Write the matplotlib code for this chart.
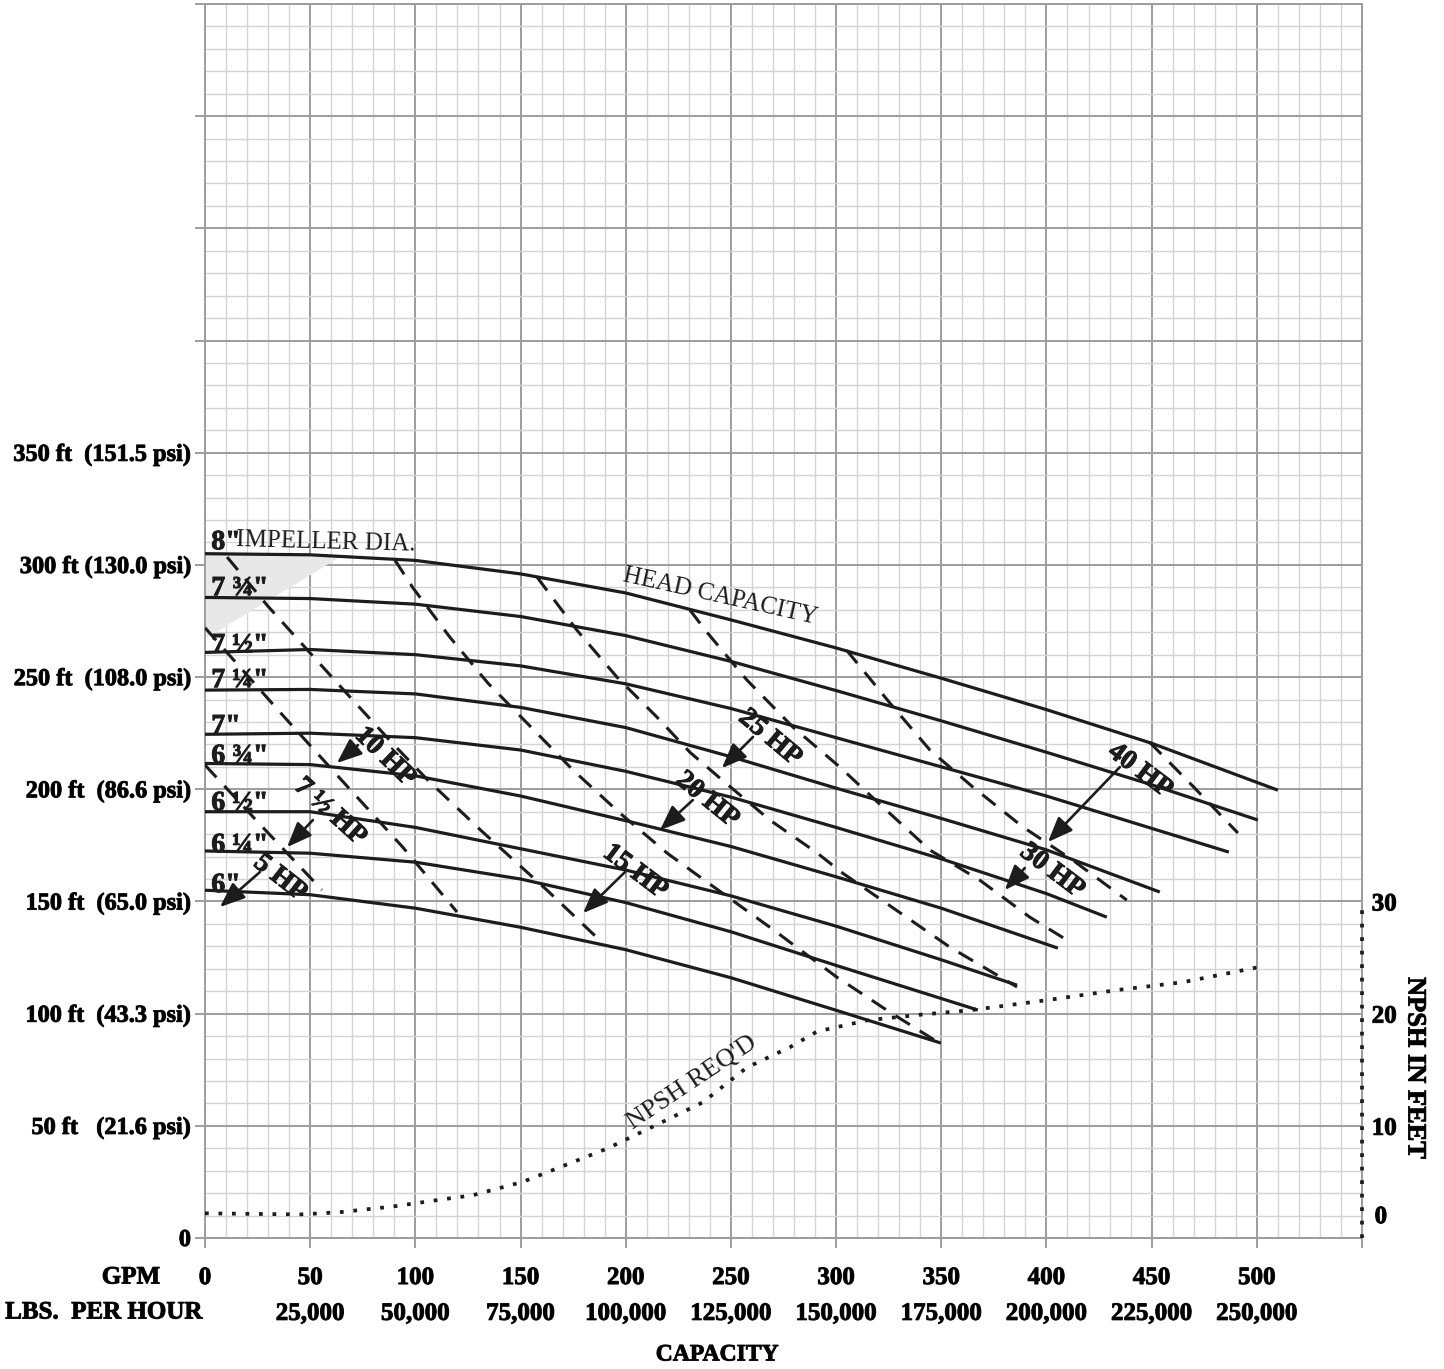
import matplotlib.pyplot as plt
import matplotlib.patheffects as pe

plt.rcParams['font.family'] = ['Liberation Serif', 'DejaVu Serif']

INK = '#1e1b1c'
MAJOR = '#9d9d9d'
MINOR = '#d4d4d4'
HEAVY = [pe.withStroke(linewidth=0.7, foreground=INK)]

# ---- impeller head-capacity curves (gpm, head ft) ----
dia_labels = ['8"', '7 ¾"', '7 ½"', '7 ¼"', '7"', '6 ¾"', '6 ½"', '6 ¼"', '6"']
dia_label_y = [307, 286.5, 261.1, 245.5, 225, 211.7, 190.7, 172, 154.2]

gpm_8 = [0, 50, 100, 150, 200, 250, 300, 350, 400, 450, 510]
head_8 = [305, 304.5, 302, 296, 287.5, 275.5, 263, 249.5, 235.5, 220.5, 199.6]
gpm_7_75 = [0, 50, 100, 150, 200, 250, 300, 350, 400, 450, 500.5]
head_7_75 = [285.5, 285, 282.5, 277, 268.5, 257, 244, 230.5, 216.5, 202, 186.3]
gpm_7_5 = [0, 50, 100, 150, 200, 250, 300, 350, 400, 486.7]
head_7_5 = [261, 262.3, 260, 255, 247, 236, 223, 210, 197, 172]
gpm_7_25 = [0, 50, 100, 150, 200, 250, 300, 350, 400, 453.9]
head_7_25 = [244.2, 244.5, 242.5, 236.5, 227.5, 214.5, 200.5, 187, 173, 154.2]
gpm_7 = [0, 50, 100, 150, 200, 250, 300, 350, 400, 428.7]
head_7 = [224.5, 225, 223, 217.5, 208, 196.5, 183, 169, 153.5, 143]
gpm_6_75 = [0, 50, 100, 150, 200, 250, 300, 350, 405.4]
head_6_75 = [211.5, 211, 206, 197, 186, 174.5, 161, 147, 129.2]
gpm_6_5 = [0, 50, 100, 150, 200, 250, 300, 350, 386]
head_6_5 = [190, 190, 183, 173.5, 164, 152.5, 139, 124, 112.7]
gpm_6_25 = [0, 50, 100, 150, 200, 250, 300, 367.4]
head_6_25 = [172.5, 171.5, 167.5, 160, 149.5, 136.5, 121.5, 101.6]
gpm_6 = [0, 50, 100, 150, 200, 250, 300, 349.8]
head_6 = [155, 153, 147, 138.5, 128.5, 116, 101.5, 86.9]

curves = [(gpm_8, head_8), (gpm_7_75, head_7_75), (gpm_7_5, head_7_5),
          (gpm_7_25, head_7_25), (gpm_7, head_7), (gpm_6_75, head_6_75),
          (gpm_6_5, head_6_5), (gpm_6_25, head_6_25), (gpm_6, head_6)]

# ---- constant horsepower lines (dashed) ----
hp_a_gpm = [0, 25, 55.6]
hp_a_head = [210.8, 185.5, 155.1]
hp_b_gpm = [0, 35.6, 65, 94, 119.8]
hp_b_head = [272, 234.4, 204, 174.2, 145.3]
hp_c_gpm = [10.5, 30, 50, 70, 89, 106, 131, 162.5, 189]
hp_c_head = [303.5, 281.5, 260.7, 240, 220.6, 204, 181.8, 155.1, 131.5]
hp_d_gpm = [90.3, 98.9, 116.4, 134.5, 155.4, 174.9, 197.2, 219.6, 235.3, 270, 300, 325, 348]
hp_d_head = [302.1, 289.7, 267.8, 247.3, 227.3, 208.6, 189.4, 171.6, 160.9, 137.5, 116.5, 101, 87.5]
hp_e_gpm = [157.8, 176.8, 195.8, 214.8, 230.5, 246, 268.5, 291, 303, 354, 386]
hp_e_head = [294.6, 270.9, 250, 232.2, 216.5, 204, 186.3, 171.6, 162.7, 129.7, 111.9]
hp_f_gpm = [230.5, 238.6, 257.6, 279.5, 301.8, 322.2, 344.6, 368.3, 392.1, 409.7]
hp_f_head = [279.9, 270, 248.7, 227.7, 209.9, 192.1, 172.9, 159.5, 143, 132.8]
hp_g_gpm = [305, 325.6, 344.6, 365, 388.8, 412.5, 438.2]
hp_g_head = [262, 238.4, 217.5, 201, 183.2, 168.4, 150.6]
hp_h_gpm = [449, 470, 491]
hp_h_head = [221, 201, 180.5]

hp_lines = [(hp_a_gpm, hp_a_head), (hp_b_gpm, hp_b_head), (hp_c_gpm, hp_c_head),
            (hp_d_gpm, hp_d_head), (hp_e_gpm, hp_e_head), (hp_f_gpm, hp_f_head),
            (hp_g_gpm, hp_g_head), (hp_h_gpm, hp_h_head)]

# HP call-outs: label, text centre, rotation, arrow tail, arrow tip
hp_names = ['5 HP', '7 ½ HP', '10 HP', '15 HP', '20 HP', '25 HP', '30 HP', '40 HP']
hp_text_xy = [(35.6, 160.4), (59.4, 189.8), (85.5, 214.3), (204.4, 163.1),
              (238.6, 195.2), (268.5, 222.8), (402.6, 163.5), (444.4, 208.1)]
hp_rot = [-38, -42, -44, -37, -39, -40, -37, -37]
hp_tail = [(26.1, 163.1), (51.3, 186.3), (72.7, 219.7), (200.6, 164),
           (231.9, 195.2), (260.5, 223.3), (389.7, 164.9), (434.9, 209.9)]
hp_tip = [(7.1, 147.5), (39.0, 174.2), (62.7, 211.7), (179.7, 144.8),
          (216.3, 181.8), (245.7, 209.4), (380.2, 155.1), (400.7, 176.5)]

# ---- NPSH required (ft) ----
npsh_gpm = [0, 45, 64, 89, 115, 127, 151, 170, 191.5, 214.8, 236.7, 257.6, 278,
            290.9, 314.6, 339.8, 363.6, 400.2, 433.5, 464.8, 502.4]
npsh_ft = [2.2, 2.1, 2.3, 2.8, 3.5, 3.8, 5.0, 6.4, 8.0, 10.1, 12.1, 15.2, 17.0,
           18.4, 19.4, 19.9, 20.3, 21.2, 22.1, 22.8, 24.2]

# ---- axis ticks ----
gpm_ticks = [0, 50, 100, 150, 200, 250, 300, 350, 400, 450, 500, 550]
gpm_labels = ['0', '50', '100', '150', '200', '250', '300', '350', '400', '450', '500', '']
lbs_ticks = [25000, 50000, 75000, 100000, 125000, 150000, 175000, 200000, 225000, 250000]
lbs_labels = ['25,000', '50,000', '75,000', '100,000', '125,000', '150,000',
              '175,000', '200,000', '225,000', '250,000']
head_ticks = [0, 50, 100, 150, 200, 250, 300, 350, 400, 450, 500, 550]
head_labels = ['0', '50 ft   (21.6 psi)', '100 ft  (43.3 psi)', '150 ft  (65.0 psi)',
               '200 ft  (86.6 psi)', '250 ft  (108.0 psi)', '300 ft (130.0 psi)',
               '350 ft  (151.5 psi)', '', '', '', '']
npsh_ticks = [10, 20, 30]

W, H = 1444, 1369
fig = plt.figure(figsize=(W / 100, H / 100), dpi=100)
ax = fig.add_axes([205 / W, 1 - 1238 / H, (1362 - 205) / W, (1238 - 4) / H])
ax.set_xlim(0, 550)
ax.set_ylim(0, 550)
ax.set_axisbelow(True)

ax.set_xticks(gpm_ticks, labels=gpm_labels)
ax.set_xticks(range(0, 551, 10), minor=True)
ax.set_yticks(head_ticks, labels=head_labels)
ax.set_yticks(range(0, 551, 10), minor=True)
ax.grid(which='minor', color=MINOR, lw=1.0)
ax.grid(which='major', color=MAJOR, lw=1.4)
ax.tick_params(which='minor', length=0)
ax.tick_params(which='major', length=7.2, width=1.4, color=MAJOR)
ax.tick_params(axis='x', pad=13, labelsize=18)
ax.tick_params(axis='y', pad=3, labelsize=17.5)
for lab in ax.get_xticklabels() + ax.get_yticklabels():
    lab.set_fontweight('bold')
    lab.set_path_effects(HEAVY)
for sp in ax.spines.values():
    sp.set_color(MAJOR)
    sp.set_linewidth(1.4)

sec = ax.secondary_xaxis('bottom', functions=(lambda g: g * 500, lambda l: l / 500))
sec.set_xticks(lbs_ticks, labels=lbs_labels)
sec.tick_params(length=0, pad=46, labelsize=18)
sec.spines['bottom'].set_visible(False)
for lab in sec.get_xticklabels():
    lab.set_fontweight('bold')
    lab.set_path_effects(HEAVY)

# shaded corner under the 8" curve
ax.fill([0, 65, 0], [305, 304, 267], color='#e8e8e8', lw=0, zorder=1)

for g, h in curves:
    ax.plot(g, h, color=INK, lw=2.3, solid_joinstyle='round', solid_capstyle='butt', zorder=3)
for g, h in hp_lines:
    ax.plot(g, h, color=INK, lw=2.2, linestyle=(0, (5.5, 3.8)), zorder=3)

for name, y in zip(dia_labels, dia_label_y):
    ax.text(3.0, y, name, fontsize=20, fontweight='bold', color=INK,
            ha='left', va='baseline', zorder=4, path_effects=HEAVY)
ax.text(14.7, 308.5, 'IMPELLER DIA.', fontsize=18, color=INK, rotation=-1.5,
        rotation_mode='anchor', ha='left', va='baseline', zorder=4)
ax.text(244.8, 285.7, 'HEAD CAPACITY', fontsize=18, color=INK, rotation=-12.5,
        rotation_mode='anchor', ha='center', va='center', zorder=4)
ax.text(231.4, 69, "NPSH REQ'D", fontsize=19, color=INK, rotation=33.8,
        rotation_mode='anchor', ha='center', va='center', zorder=4)

for name, xy, rot, tail, tip in zip(hp_names, hp_text_xy, hp_rot, hp_tail, hp_tip):
    ax.text(xy[0], xy[1], name, fontsize=20, fontweight='bold', color=INK,
            rotation=rot, rotation_mode='anchor', ha='center', va='center', zorder=5,
            path_effects=HEAVY)
    ax.annotate('', xy=tip, xytext=tail, zorder=5,
                arrowprops=dict(arrowstyle='-|>,head_length=0.85,head_width=0.34',
                                mutation_scale=18, lw=1.9, color=INK,
                                shrinkA=0, shrinkB=0))

# NPSH scale on the right
ax2 = ax.twinx()
ax2.set_ylim(0, 110)
ax2.plot(npsh_gpm, npsh_ft, color=INK, lw=2.7, linestyle=(0, (1, 2.6)))
ax2.plot([550, 550], [0, 30], color=INK, lw=2.7, linestyle=(0, (1, 2.6)), clip_on=False)
ax2.set_yticks(npsh_ticks, labels=[str(t) for t in npsh_ticks])
ax2.tick_params(axis='y', length=0, pad=7, labelsize=18)
for lab in ax2.get_yticklabels():
    lab.set_fontweight('bold')
    lab.set_path_effects(HEAVY)
ax2.text(556, 1.9, '0', fontsize=18, fontweight='bold',
         ha='left', va='center', clip_on=False, path_effects=HEAVY)
for sp in ax2.spines.values():
    sp.set_visible(False)

fig.text(131 / W, 1 - 1277 / H, 'GPM', fontsize=18, fontweight='bold',
         ha='center', va='center', path_effects=HEAVY)
fig.text(104 / W, 1 - 1312 / H, 'LBS.  PER HOUR', fontsize=18, fontweight='bold',
         ha='center', va='center', path_effects=HEAVY)
fig.text(717 / W, 1 - 1355 / H, 'CAPACITY', fontsize=17, fontweight='bold',
         ha='center', va='center', path_effects=HEAVY)
fig.text(1415 / W, 1 - 1068 / H, 'NPSH IN FEET', fontsize=19, fontweight='bold',
         rotation=-90, ha='center', va='center', path_effects=HEAVY)

fig.savefig('out.png', dpi=100)
